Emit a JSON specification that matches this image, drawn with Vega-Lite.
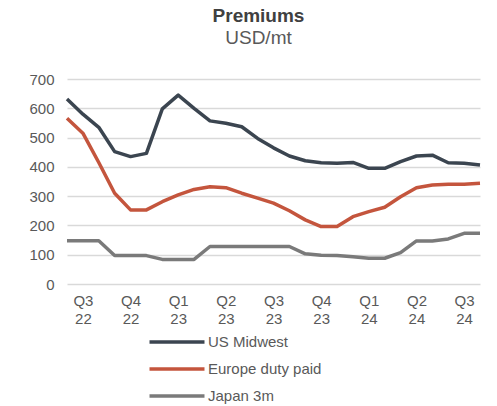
{
  "$schema": "https://vega.github.io/schema/vega-lite/v6.json",
  "width": 413,
  "height": 205,
  "autosize": {"type": "none"},
  "padding": {"left": 67, "top": 79, "right": 17, "bottom": 122},
  "background": "white",
  "title": {
    "text": "Premiums",
    "subtitle": "USD/mt",
    "anchor": "middle",
    "frame": "group",
    "dx": -15,
    "offset": 24,
    "font": "Liberation Sans",
    "fontSize": 19,
    "fontWeight": "bold",
    "color": "#404040",
    "subtitleFont": "Liberation Sans",
    "subtitleFontSize": 19,
    "subtitleColor": "#595959",
    "subtitlePadding": 3
  },
  "data": {
    "values": [
      {"m": "2022-07", "US Midwest": 632, "Europe duty paid": 566, "Japan 3m": 148},
      {"m": "2022-08", "US Midwest": 580, "Europe duty paid": 515, "Japan 3m": 148},
      {"m": "2022-09", "US Midwest": 535, "Europe duty paid": 415, "Japan 3m": 148},
      {"m": "2022-10", "US Midwest": 452, "Europe duty paid": 310, "Japan 3m": 97},
      {"m": "2022-11", "US Midwest": 435, "Europe duty paid": 253, "Japan 3m": 97},
      {"m": "2022-12", "US Midwest": 446, "Europe duty paid": 253, "Japan 3m": 97},
      {"m": "2023-01", "US Midwest": 598, "Europe duty paid": 281, "Japan 3m": 84},
      {"m": "2023-02", "US Midwest": 645, "Europe duty paid": 304, "Japan 3m": 84},
      {"m": "2023-03", "US Midwest": 600, "Europe duty paid": 323, "Japan 3m": 84},
      {"m": "2023-04", "US Midwest": 557, "Europe duty paid": 332, "Japan 3m": 128},
      {"m": "2023-05", "US Midwest": 549, "Europe duty paid": 329, "Japan 3m": 128},
      {"m": "2023-06", "US Midwest": 537, "Europe duty paid": 310, "Japan 3m": 128},
      {"m": "2023-07", "US Midwest": 497, "Europe duty paid": 293, "Japan 3m": 128},
      {"m": "2023-08", "US Midwest": 465, "Europe duty paid": 276, "Japan 3m": 128},
      {"m": "2023-09", "US Midwest": 437, "Europe duty paid": 250, "Japan 3m": 128},
      {"m": "2023-10", "US Midwest": 421, "Europe duty paid": 219, "Japan 3m": 103},
      {"m": "2023-11", "US Midwest": 414, "Europe duty paid": 196, "Japan 3m": 98},
      {"m": "2023-12", "US Midwest": 412, "Europe duty paid": 196, "Japan 3m": 97},
      {"m": "2024-01", "US Midwest": 415, "Europe duty paid": 230, "Japan 3m": 93},
      {"m": "2024-02", "US Midwest": 395, "Europe duty paid": 247, "Japan 3m": 88},
      {"m": "2024-03", "US Midwest": 395, "Europe duty paid": 262, "Japan 3m": 88},
      {"m": "2024-04", "US Midwest": 418, "Europe duty paid": 298, "Japan 3m": 107},
      {"m": "2024-05", "US Midwest": 437, "Europe duty paid": 329, "Japan 3m": 147},
      {"m": "2024-06", "US Midwest": 440, "Europe duty paid": 338, "Japan 3m": 147},
      {"m": "2024-07", "US Midwest": 414, "Europe duty paid": 341, "Japan 3m": 154},
      {"m": "2024-08", "US Midwest": 412, "Europe duty paid": 341, "Japan 3m": 173},
      {"m": "2024-09", "US Midwest": 406, "Europe duty paid": 344, "Japan 3m": 173}
    ]
  },
  "transform": [
    {"fold": ["US Midwest", "Europe duty paid", "Japan 3m"], "as": ["series", "value"]}
  ],
  "mark": {"type": "line", "strokeWidth": 3.5, "strokeJoin": "round"},
  "encoding": {
    "x": {
      "field": "m",
      "type": "ordinal",
      "sort": null,
      "scale": {"type": "point", "padding": 0},
      "axis": {
        "title": null,
        "ticks": false,
        "domain": false,
        "grid": false,
        "labelAngle": 0,
        "labelOverlap": false,
        "labelPadding": 9,
        "labelFont": "Liberation Sans",
        "labelFontSize": 15,
        "labelColor": "#595959",
        "labelLineHeight": 18,
        "labelExpr": "indexof(['02','05','08','11'], slice(datum.value, 5)) >= 0 ? ['Q' + (indexof(['02','05','08','11'], slice(datum.value, 5)) + 1), slice(datum.value, 2, 4)] : ''"
      }
    },
    "y": {
      "field": "value",
      "type": "quantitative",
      "scale": {"domain": [0, 700], "nice": false},
      "axis": {
        "title": null,
        "values": [0, 100, 200, 300, 400, 500, 600, 700],
        "ticks": false,
        "tickSize": 0,
        "domain": false,
        "grid": true,
        "gridColor": "#d9d9d9",
        "gridWidth": 1.5,
        "labelPadding": 13,
        "labelFont": "Liberation Sans",
        "labelFontSize": 15,
        "labelColor": "#595959"
      }
    },
    "color": {
      "field": "series",
      "type": "nominal",
      "sort": ["US Midwest", "Europe duty paid", "Japan 3m"],
      "scale": {
        "domain": ["US Midwest", "Europe duty paid", "Japan 3m"],
        "range": ["#3b4550", "#c4553d", "#7a7a7a"]
      },
      "legend": {
        "title": null,
        "orient": "none",
        "legendX": 99,
        "legendY": 252,
        "direction": "vertical",
        "symbolType": "M-3,0H3",
        "symbolSize": 336,
        "symbolStrokeWidth": 3.5,
        "labelFont": "Liberation Sans",
        "labelFontSize": 15,
        "labelColor": "#595959",
        "labelOffset": 20,
        "rowPadding": 8
      }
    }
  },
  "config": {"view": {"stroke": null}}
}
